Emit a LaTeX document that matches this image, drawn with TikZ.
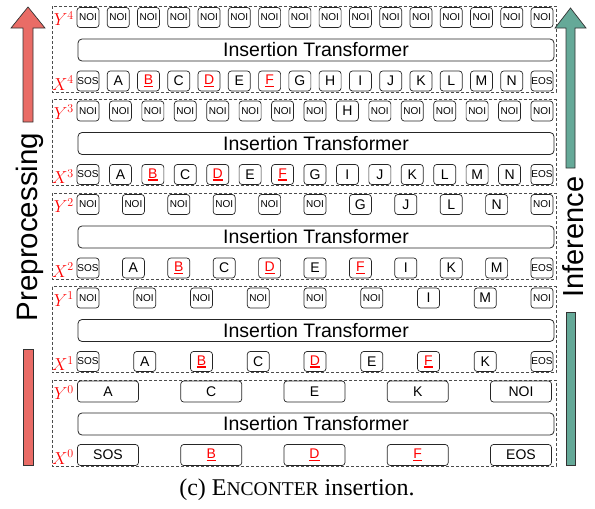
\documentclass[tikz,border=0pt]{standalone}
\usepackage{fontspec}
\setmainfont{Liberation Sans}
\newfontfamily\capfont{Liberation Serif}
\usepackage{tikz}
\usetikzlibrary{positioning}
\definecolor{pre}{RGB}{233,108,102}
\definecolor{inf}{RGB}{101,169,152}
\newcommand{\fsz}[1]{\fontsize{#1}{#1}\selectfont}
\newcommand{\noi}{{\fsz{10}NOI}}
\newcommand{\sos}{{\fsz{10}SOS}}
\newcommand{\eos}{{\fsz{10}EOS}}
\newcommand{\tgt}[1]{{\color{red}\setbox0\hbox{#1}\rlap{\rule[-2.6pt]{\wd0}{1.6pt}}\box0}}

\begin{document}
\begin{tikzpicture}[x=1pt,y=-1pt,
  tok/.style={draw=black!85,line width=0.7pt,rounded corners=3pt,minimum width=22pt,minimum height=20pt,inner sep=0pt,font=\fsz{14}},
  wtok/.style={tok,minimum width=61pt,minimum height=21pt},
  trf/.style={draw=black!85,line width=0.8pt,rounded corners=4pt,minimum width=476pt,minimum height=22pt,inner sep=0pt,font=\fsz{19.5}},
  lbl/.style={red,anchor=base east,inner sep=1pt,font=\fsz{18}},
  grp/.style={draw=black!70,line width=0.6pt,dash pattern=on 3pt off 2pt}]
  \useasboundingbox (0,0) rectangle (595,509);
  \foreach \k in {0,...,4} {
    \pgfmathsetmacro\gy{6+(4-\k)*93.5}
    \draw[grp] (52,\gy) rectangle (556,\gy+86);
    \node[trf] (tr\k) at (316,\gy+44) {Insertion Transformer};
    \node[lbl] (ly\k) at (75,\gy+19.5) {$Y^{\k}$};
    \node[lbl] (lx\k) at (75,\gy+84) {$X^{\k}$};
  }
  \foreach \i in {0,...,15} \node[tok] (y4-\i) at ({88+\i*454/15},17.5) {\noi};
  \foreach \w [count=\i from 0] in {\sos,A,\tgt{B},C,\tgt{D},E,\tgt{F},G,H,I,J,K,L,M,N,\eos}
    \node[tok] (x4-\i) at ({88+\i*454/15},81) {\w};
  \foreach \w [count=\i from 0] in {\noi,\noi,\noi,\noi,\noi,\noi,\noi,\noi,H,\noi,\noi,\noi,\noi,\noi,\noi}
    \node[tok] (y3-\i) at ({88+\i*454/14},111) {\w};
  \foreach \w [count=\i from 0] in {\sos,A,\tgt{B},C,\tgt{D},E,\tgt{F},G,I,J,K,L,M,N,\eos}
    \node[tok] (x3-\i) at ({88+\i*454/14},174.5) {\w};
  \foreach \w [count=\i from 0] in {\noi,\noi,\noi,\noi,\noi,\noi,G,J,L,N,\noi}
    \node[tok] (y2-\i) at ({88+\i*45.4},204.5) {\w};
  \foreach \w [count=\i from 0] in {\sos,A,\tgt{B},C,\tgt{D},E,\tgt{F},I,K,M,\eos}
    \node[tok] (x2-\i) at ({88+\i*45.4},268) {\w};
  \foreach \w [count=\i from 0] in {\noi,\noi,\noi,\noi,\noi,\noi,I,M,\noi}
    \node[tok] (y1-\i) at ({88+\i*56.75},298) {\w};
  \foreach \w [count=\i from 0] in {\sos,A,\tgt{B},C,\tgt{D},E,\tgt{F},K,\eos}
    \node[tok] (x1-\i) at ({88+\i*56.75},361.5) {\w};
  \foreach \w [count=\i from 0] in {A,C,E,K,NOI}
    \node[wtok] (y0-\i) at ({108+\i*103.25},391.5) {\w};
  \foreach \w [count=\i from 0] in {SOS,\tgt{B},\tgt{D},\tgt{F},EOS}
    \node[wtok] (x0-\i) at ({108+\i*103.25},455) {\w};
  \draw[fill=pre,draw=black!80,line width=0.7pt] (23,122) -- (23,28) -- (11,28) -- (28,7) -- (45,28) -- (33,28) -- (33,122) -- cycle;
  \draw[fill=pre,draw=black!80,line width=0.7pt] (23,349) rectangle (33,465);
  \node[rotate=90,font=\fsz{29.5}] (pre) at (30,227) {Preprocessing};
  \draw[fill=inf,draw=black!80,line width=0.7pt] (566,168) -- (566,28) -- (555,28) -- (570.5,8) -- (586,28) -- (575,28) -- (575,168) -- cycle;
  \draw[fill=inf,draw=black!80,line width=0.7pt] (566,312) rectangle (575,465);
  \node[rotate=90,font=\fsz{29}] (inf) at (573,237) {Inference};
  \node[font=\capfont\fsz{24}] (cap) at (297,490) {(c) E{\fsz{19.5}NCONTER} insertion.};
\end{tikzpicture}
\end{document}
